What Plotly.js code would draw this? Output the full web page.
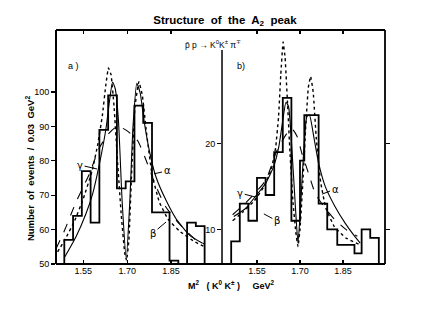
<!DOCTYPE html>
<html><head><meta charset="utf-8">
<script src="https://cdn.plot.ly/plotly-3.0.1.min.js"></script>
<style>html,body{margin:0;padding:0;background:#fff;}#chart{width:431px;height:313px;}</style>
</head><body><div id="chart"></div>
<script>
// ---- Panel a) histogram (events / 0.03 GeV^2) ----
const edgesA = [1.485, 1.515, 1.545, 1.575, 1.605, 1.635, 1.665, 1.695, 1.725, 1.755, 1.785, 1.815, 1.845, 1.875, 1.905, 1.935, 1.965];
const countsA = [57, 64, 77, 62, 89, 99, 72, 74, 96, 91, 65, 65, 51, 50, 62, 61];
// Panel a) fitted curves
const alphaAx = [1.487, 1.525, 1.559, 1.582, 1.605, 1.628, 1.641, 1.650, 1.659, 1.670, 1.683, 1.697, 1.709, 1.720, 1.733, 1.745, 1.758, 1.776, 1.799, 1.833, 1.867, 1.913, 1.958];
const alphaAy = [52.1, 57.9, 64.6, 70.4, 79.0, 89.6, 98.3, 102.9, 101.0, 92.0, 68.0, 51.5, 68.0, 90.0, 102.5, 99.5, 91.5, 82.9, 75.2, 68.5, 63.2, 58.4, 56.0];
const betaAx = [1.462, 1.49, 1.52, 1.55, 1.58, 1.60, 1.615, 1.627, 1.636, 1.645, 1.655, 1.667, 1.68, 1.692, 1.698, 1.706, 1.716, 1.727, 1.740, 1.752, 1.765, 1.785, 1.81, 1.84, 1.88, 1.93, 1.965];
const betaAy = [53.5, 57.5, 62.5, 69, 77, 85, 93, 102, 107, 105, 96, 80, 64, 53, 51, 57, 78, 96, 103, 99, 89, 76, 68, 63, 59.5, 56.5, 55];
const gammaAx = [1.457, 1.487, 1.525, 1.57, 1.605, 1.64, 1.667, 1.70, 1.736, 1.77, 1.80, 1.833, 1.878, 1.935, 1.964];
const gammaAy = [54.5, 60, 68, 76, 83.8, 88.2, 90, 88.7, 85.8, 79, 72.3, 66.5, 61.7, 57, 55.8];

// ---- Panel b) histogram ----
const edgesB = [1.46, 1.49, 1.52, 1.55, 1.58, 1.61, 1.64, 1.67, 1.70, 1.715, 1.765, 1.795, 1.83, 1.86, 1.89, 1.915, 1.945, 1.975];
const countsB = [8.6, 13, 11, 16, 14, 19, 25.3, 11, 18, 23.3, 13, 10, 8.2, 8.2, 7.2, 10, 9];
// Panel b) fitted curves
const alphaBx = [1.469, 1.509, 1.544, 1.579, 1.608, 1.626, 1.640, 1.651, 1.660, 1.672, 1.684, 1.693, 1.702, 1.713, 1.724, 1.733, 1.748, 1.765, 1.788, 1.823, 1.858, 1.893, 1.910];
const alphaBy = [11.5, 12.4, 13.8, 15.3, 17.3, 19.6, 22.7, 24.8, 24.3, 19.2, 12.6, 8.4, 12.6, 19.2, 23.1, 23.3, 20.8, 17.7, 15.0, 12.6, 10.7, 9.1, 8.4];
const betaBx = [1.465, 1.50, 1.54, 1.575, 1.60, 1.615, 1.625, 1.633, 1.641, 1.648, 1.656, 1.665, 1.676, 1.686, 1.693, 1.700, 1.710, 1.720, 1.729, 1.737, 1.746, 1.757, 1.772, 1.79, 1.82, 1.86, 1.91];
const betaBy = [11.0, 12.0, 13.3, 15.0, 17.0, 19.5, 23.0, 28.0, 31.8, 30.0, 25.0, 19.0, 13.0, 9.5, 8.0, 10.0, 15.5, 22.0, 26.5, 27.8, 26.0, 20.5, 15.5, 12.5, 10.3, 9.0, 8.2];
const gammaBx = [1.465, 1.52, 1.58, 1.62, 1.655, 1.672, 1.69, 1.707, 1.73, 1.753, 1.78, 1.82, 1.86, 1.90];
const gammaBy = [11.7, 13.4, 15.7, 19.2, 21.2, 21.7, 20.8, 18.8, 16.5, 14.2, 12.8, 11.2, 10.0, 9.2];

// ---- Axes / ticks ----
const xTickVals = [1.55, 1.70, 1.85];
const xTickText = ['1.55', '1.70', '1.85'];
const yTickValsA = [50, 60, 70, 80, 90, 100];
const yTickValsB = [10, 20];
const xRangeA = [1.4566, 2.0245];
const xRangeB = [1.428, 1.9965];
const yRangeA = [50, 118];
const yRangeB = [5.97, 33.2];

function stepOutline(edges, counts, base) {
  const xs = [edges[0]], ys = [base];
  for (let i = 0; i < counts.length; i++) { xs.push(edges[i], edges[i + 1]); ys.push(counts[i], counts[i]); }
  xs.push(edges[edges.length - 1]); ys.push(base);
  return {xs, ys};
}
const hA = stepOutline(edgesA, countsA, yRangeA[0]);
const hB = stepOutline(edgesB, countsB, yRangeB[0]);

const K = '#000';
function curve(x, y, xa, ya, dash, w, sm) {
  return {x, y, xaxis: xa, yaxis: ya, type: 'scatter', mode: 'lines', hoverinfo: 'skip',
    line: {color: K, width: w, dash: dash, shape: 'spline', smoothing: sm}};
}
const traces = [
  {x: hA.xs, y: hA.ys, xaxis: 'x', yaxis: 'y', type: 'scatter', mode: 'lines', line: {color: K, width: 1.8}},
  curve(gammaAx, gammaAy, 'x', 'y', 'dash', 1.1, 0.6),
  curve(betaAx, betaAy, 'x', 'y', 'dot', 1.4, 0.3),
  curve(alphaAx, alphaAy, 'x', 'y', 'solid', 1.1, 0.5),
  {x: hB.xs, y: hB.ys, xaxis: 'x2', yaxis: 'y2', type: 'scatter', mode: 'lines', line: {color: K, width: 1.8}},
  curve(gammaBx, gammaBy, 'x2', 'y2', 'dash', 1.1, 0.6),
  curve(betaBx, betaBy, 'x2', 'y2', 'dot', 1.4, 0.3),
  curve(alphaBx, alphaBy, 'x2', 'y2', 'solid', 1.1, 0.5)
];

const FONT = 'Liberation Sans, Arial, sans-serif';
const axBase = {showgrid: false, zeroline: false, showline: false, tickcolor: K, tickwidth: 1.2,
  tickfont: {family: FONT, size: 9, color: K}};

function lbl(text, x, y, xref, yref, ax, ay) {
  return {text, x, y, xref, yref, ax, ay, showarrow: true, arrowhead: 0, arrowwidth: 1,
    arrowcolor: K, standoff: 0, startstandoff: 0, font: {family: 'DejaVu Sans, sans-serif', size: 10, color: K}};
}
function txt(text, x, y, size, extra) {
  return Object.assign({text, x, y, xref: 'paper', yref: 'paper', xanchor: 'center', yanchor: 'middle',
    showarrow: false, font: {family: FONT, size: size, color: K}}, extra || {});
}
function border(x0, y0, x1, y1, w) {
  return {type: 'line', xref: 'paper', yref: 'paper', x0, y0, x1, y1, layer: 'above', line: {color: K, width: w}};
}

const layout = {
  width: 431, height: 313,
  margin: {l: 56, r: 46, t: 30, b: 49},
  paper_bgcolor: '#fff', plot_bgcolor: '#fff', showlegend: false,
  title: {text: '<b>Structure  of  the  A<sub>2</sub>  peak</b>', x: 0.522, xanchor: 'center', y: 0.936, yanchor: 'middle',
    font: {family: FONT, size: 11.5, color: K}},
  xaxis: Object.assign({}, axBase, {domain: [0, 0.5046], range: xRangeA, anchor: 'y', tickvals: xTickVals, ticktext: xTickText,
    ticks: 'inside', ticklen: 4, mirror: 'ticks'}),
  yaxis: Object.assign({}, axBase, {domain: [0, 1], range: yRangeA, anchor: 'x', tickvals: yTickValsA,
    ticks: 'outside', ticklen: 4}),
  xaxis2: Object.assign({}, axBase, {domain: [0.5046, 1], range: xRangeB, anchor: 'y2', tickvals: xTickVals, ticktext: xTickText,
    ticks: 'inside', ticklen: 4, mirror: 'ticks'}),
  yaxis2: Object.assign({}, axBase, {domain: [0, 1], range: yRangeB, anchor: 'x2', tickvals: yTickValsB,
    ticks: 'outside', ticklen: 4, mirror: 'ticks'}),
  shapes: [
    border(0, 0, 1, 0, 2.2),
    border(0, 1, 1, 1, 2),
    border(0, 0, 0, 1, 2),
    border(1, 0, 1, 1, 1.8),
    border(0.5046, 0, 0.5046, 0.915, 1.5)
  ],
  annotations: [
    txt('p̄ p → K<sup>0</sup>K<sup>±</sup> π<sup>∓</sup>', 0.477, 0.936, 8.5),
    txt('a )', 0.052, 0.846, 9),
    txt('b)', 0.562, 0.846, 9),
    txt('<b>Number  of  events  /  0.03  GeV<sup>2</sup></b>', -0.079, 0.41, 9.5, {textangle: -90}),
    txt('<b>M<sup>2</sup>   ( K<sup>0</sup> K<sup>±</sup> )     GeV<sup>2</sup></b>', 0.532, -0.09, 9),
    lbl('γ', 1.597, 77.6, 'x', 'y', -17, -4),
    lbl('α', 1.792, 76.2, 'x', 'y', 13, -3),
    lbl('β', 1.833, 62.2, 'x', 'y', -13, 11),
    lbl('γ', 1.544, 13.76, 'x2', 'y2', -15, -4),
    lbl('β', 1.574, 11.8, 'x2', 'y2', 13, 7),
    lbl('α', 1.777, 14.1, 'x2', 'y2', 13, -5)
  ]
};

Plotly.newPlot('chart', traces, layout, {staticPlot: true, displayModeBar: false});
</script>
</body></html>
